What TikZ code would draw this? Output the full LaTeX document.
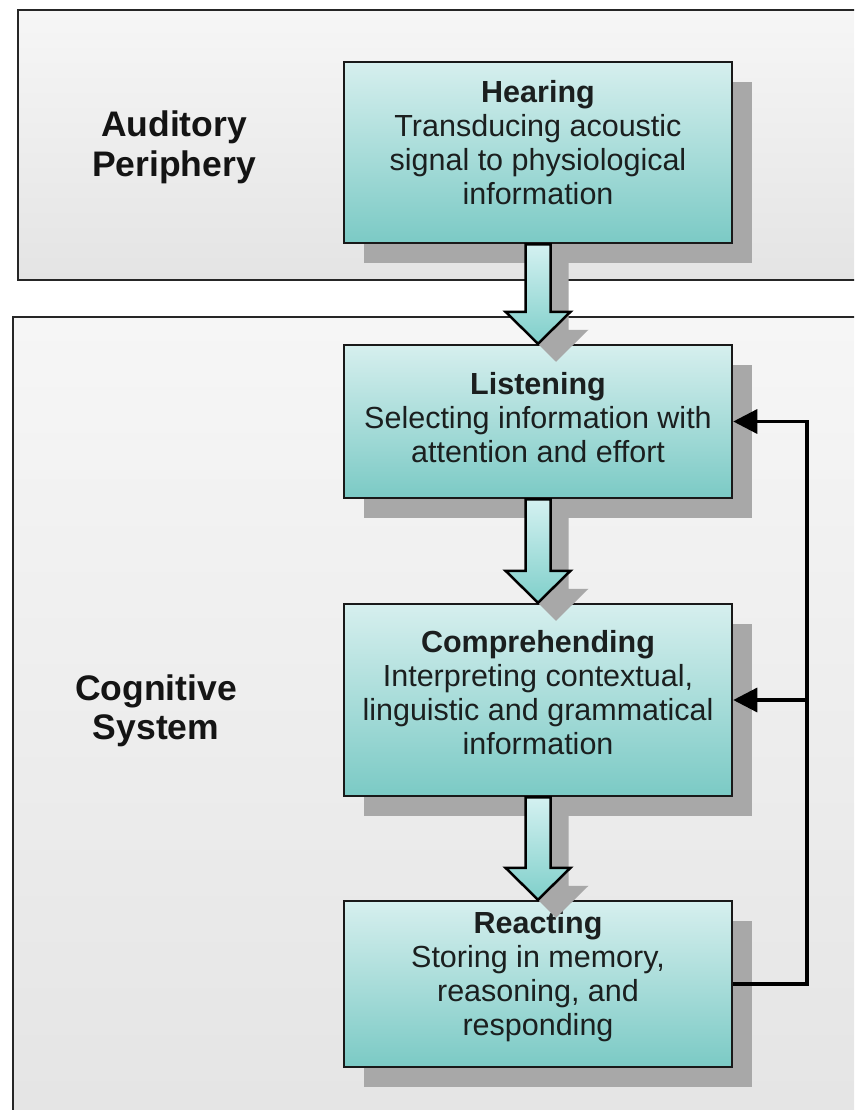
\documentclass[tikz,border=0pt]{standalone}
\usepackage{fontspec}
\setmainfont{Liberation Sans}
\usetikzlibrary{calc,arrows.meta,shadows}

\definecolor{panelTop}{HTML}{F6F6F6}
\definecolor{panelBot}{HTML}{E4E4E4}
\definecolor{boxTop}{HTML}{D6EFEE}
\definecolor{boxBot}{HTML}{7BCAC5}
\definecolor{arrowTop}{HTML}{D4F1F1}
\definecolor{arrowBot}{HTML}{7FCFCA}
\definecolor{shadowGray}{HTML}{A8A8A8}
\definecolor{ink}{HTML}{1B1F1F}

% hollow block arrow from the bottom of one stage to the top of the next
\newcommand\flowarrow[2]{%
  \fill[shadowGray, transform canvas={shift={(18pt,-18pt)}}]
    ($(#1.south)+(-12.5,0)$) -- ($(#2.north)+(-12.5,-32)$) -- ($(#2.north)+(-32.5,-32)$)
    -- (#2.north) -- ($(#2.north)+(32.5,-32)$) -- ($(#2.north)+(12.5,-32)$)
    -- ($(#1.south)+(12.5,0)$) -- cycle;
  \draw[blockarrow]
    ($(#1.south)+(-12.5,0)$) -- ($(#2.north)+(-12.5,-32)$) -- ($(#2.north)+(-32.5,-32)$)
    -- (#2.north) -- ($(#2.north)+(32.5,-32)$) -- ($(#2.north)+(12.5,-32)$)
    -- ($(#1.south)+(12.5,0)$) -- cycle;
}

\begin{document}
\begin{tikzpicture}[x=1pt,y=-1pt,
  panel/.style={draw=black!85, line width=2.5pt, top color=panelTop, bottom color=panelBot},
  panellabel/.style={font=\fontsize{35.5}{39.5}\selectfont\bfseries, text=black!92, align=center, inner sep=0pt},
  stage/.style={draw=black!90, line width=2.5pt, top color=boxTop, bottom color=boxBot,
    minimum width=388pt, inner sep=0pt,
    drop shadow={shadow xshift=20pt, shadow yshift=-20pt, fill=shadowGray, opacity=1}},
  stagetext/.style={font=\fontsize{30.5}{34}\selectfont, text=ink, align=center, inner sep=0pt},
  blockarrow/.style={draw=black, line width=2.5pt, line join=miter, top color=arrowTop, bottom color=arrowBot},
  feedback/.style={draw=black, line width=3.3pt, line join=miter, -{Triangle[length=24pt,width=24pt]}}
]
\useasboundingbox (0,0) rectangle (854,1110);
\fill[white] (0,0) rectangle (854,1110);
\clip (0,0) rectangle (854,1110);

% two background panels
\path[panel] (18,10) rectangle (890,280);
\path[panel] (13,317) rectangle (890,1150);
\node[panellabel] (periph) at (174,147.5) {Auditory\\Periphery};
\node[panellabel] (cogsys) at (156,711) {Cognitive\\System};

% processing stages
\node[stage, minimum height=181pt] (hear)   at (538,152.5) {};
\node[stage, minimum height=153pt] (listen) at (538,421.5) {};
\node[stage, minimum height=192pt] (comp)   at (538,700) {};
\node[stage, minimum height=166pt] (react)  at (538,984) {};

\node[stagetext] (hearT)   at ($(hear.center)+(0,-10)$)  {\textbf{Hearing}\\Transducing acoustic\\signal to physiological\\information};
\node[stagetext] (listenT) at ($(listen.center)+(0,-4)$) {\textbf{Listening}\\Selecting information with\\attention and effort};
\node[stagetext] (compT)   at ($(comp.center)+(0,-7)$)   {\textbf{Comprehending}\\Interpreting contextual,\\linguistic and grammatical\\information};
\node[stagetext] (reactT)  at ($(react.center)+(0,-7)$)  {\textbf{Reacting}\\Storing in memory,\\reasoning, and\\responding};

% flow between stages
\flowarrow{hear}{listen}
\flowarrow{listen}{comp}
\flowarrow{comp}{react}

% feedback loop
\coordinate (bus) at (807,0);
\draw[feedback] (react.east) -| (bus |- listen.east) -- (listen.east);
\draw[feedback] (bus |- comp.east) -- (comp.east);
\end{tikzpicture}
\end{document}
